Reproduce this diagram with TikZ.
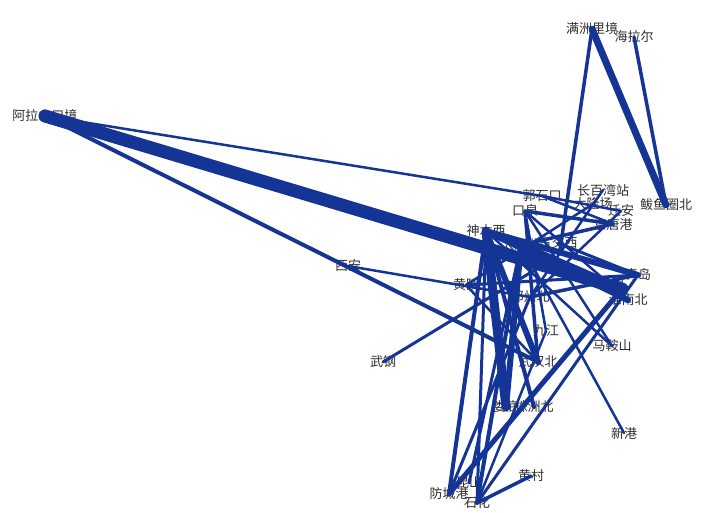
\documentclass[tikz,border=0pt]{standalone}
\usepackage{fontspec}
\newfontfamily\cjk{Noto Sans CJK SC}
\definecolor{edgeblue}{RGB}{20,52,150}
\definecolor{labelgray}{RGB}{45,45,45}
\begin{document}
\begin{tikzpicture}[x=1pt,y=-1pt,
  lbl/.style={inner sep=0pt, text=labelgray, font=\cjk\fontsize{13}{13}\selectfont},
  e/.style={draw=edgeblue, line cap=round}]
\useasboundingbox (0,0) rectangle (702,512);
% labels (drawn first, edges on top)
\node[lbl] (mzl) at (592,29) {满洲里境};
\node[lbl] (hle) at (634,37) {海拉尔};
\node[lbl] (byq) at (666,205) {鲅鱼圈北};
\node[lbl] (alsk) at (45,116) {阿拉山口境};
\node[lbl] (gsk) at (542,196) {郭石口};
\node[lbl] (cbw) at (603,190) {长百湾站};
\node[lbl] (kq) at (525,211) {口泉};
\node[lbl] (dlc) at (593,204) {大隆场};
\node[lbl] (qa) at (621,211) {迁安};
\node[lbl] (jtg) at (613,224) {京唐港};
\node[lbl] (smx) at (486,231) {神木西};
\node[lbl] (tyb) at (521,245) {太原北};
\node[lbl] (gjx) at (558,243) {古交西};
\node[lbl] (qd) at (638,275) {青岛};
\node[lbl] (rz) at (611,285) {日照};
\node[lbl] (hnb) at (628,300) {淮南北};
\node[lbl] (hl) at (466,285) {黄陵};
\node[lbl] (xa) at (348,266) {西安};
\node[lbl] (wg) at (383,362) {武钢};
\node[lbl] (zzb) at (530,297) {郑州北};
\node[lbl] (jj) at (546,331) {九江};
\node[lbl] (whb) at (538,362) {武汉北};
\node[lbl] (mas) at (612,346) {马鞍山};
\node[lbl] (xg) at (624,433) {新港};
\node[lbl] (ld) at (506,407) {娄底};
\node[lbl] (zzhb) at (534,407) {株洲北};
\node[lbl] (hc) at (531,476) {黄村};
\node[lbl] (ks) at (469,483) {昆山};
\node[lbl] (fcg) at (449,494) {防城港};
\node[lbl] (sh) at (477,503) {石化};
\coordinate (dt) at (560,250);
\coordinate (hub) at (548,262);
\coordinate (rzend) at (622,289);
% edges
\draw[e, line width=7] (mzl.center) -- (byq.center);
\draw[e, line width=3.5] (hle.center) -- (byq.center);
\draw[e, line width=3.5] (mzl.center) -- (dt);
\draw[e, line width=13] (alsk.center) -- (rzend);
\draw[e, line width=4] (alsk.center) -- (whb.center);
\draw[e, line width=2.5] (alsk.center) -- (gsk.center);
\draw[e, line width=2.5] (xa.center) -- (zzb.center);
\draw[e, line width=3] (wg.center) -- (hub);
\draw[e, line width=2.5] (hl.center) -- (whb.center);
\draw[e, line width=2.5] (xg.center) -- (tyb.center);
\draw[e, line width=2.5] (mas.center) -- (smx.center);
\draw[e, line width=2.5] (mas.center) -- (kq.center);
\draw[e, line width=5] (fcg.center) -- (rzend);
\draw[e, line width=3.5] (hc.center) -- (sh.center);
\draw[e, line width=9] (smx.center) -- (ld.center);
\draw[e, line width=6] (tyb.center) -- (ld.center);
\draw[e, line width=6] (smx.center) -- (whb.center);
\draw[e, line width=3.5] (kq.center) -- (whb.center);
\draw[e, line width=4] (smx.center) -- (fcg.center);
\draw[e, line width=4] (tyb.center) -- (sh.center);
\draw[e, line width=3] (smx.center) -- (sh.center);
\draw[e, line width=3] (zzb.center) -- (fcg.center);
\draw[e, line width=2.5] (jj.center) -- (sh.center);
\draw[e, line width=3] (ks.center) -- (tyb.center);
\draw[e, line width=3] (qd.center) -- (sh.center);
\draw[e, line width=4] (smx.center) -- (zzhb.center);
\draw[e, line width=2.5] (jj.center) -- (kq.center);
\draw[e, line width=3.5] (kq.center) -- (jtg.center);
\draw[e, line width=2.5] (gsk.center) -- (qa.center);
\draw[e, line width=2.5] (cbw.center) -- (zzb.center);
\draw[e, line width=2.5] (dlc.center) -- (hl.center);
\draw[e, line width=3.5] (jtg.center) -- (tyb.center);
\draw[e, line width=2.5] (qa.center) -- (zzb.center);
\draw[e, line width=6] (smx.center) -- (qd.center);
\draw[e, line width=7] (tyb.center) -- (rzend);
\draw[e, line width=6] (smx.center) -- (hnb.center);
\draw[e, line width=3] (hl.center) -- (qd.center);
\draw[e, line width=3.5] (zzb.center) -- (qd.center);
\draw[e, line width=3] (gjx.center) -- (qd.center);
\draw[e, line width=2.5] (kq.center) -- (hnb.center);
\draw[e, line width=2.5] (gsk.center) -- (jtg.center);
\end{tikzpicture}
\end{document}
